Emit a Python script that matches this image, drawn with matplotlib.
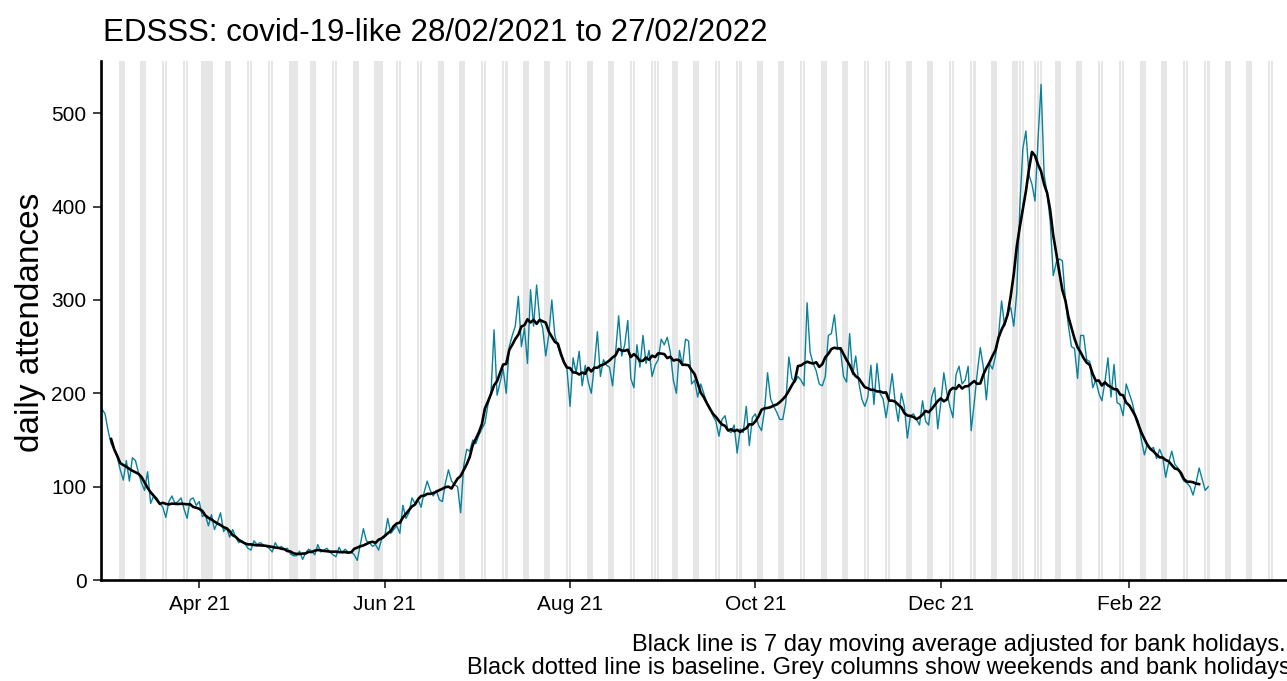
import pandas as pd
import matplotlib
matplotlib.use('Agg')
import matplotlib.pyplot as plt
import matplotlib.dates as mdates

plt.rcParams['font.family'] = ['Liberation Sans', 'DejaVu Sans']

# daily attendances (starts Sun 28/02/2021)
feb21 = [183]
mar21 = [178, 160, 146, 140, 132, 118, 107, 128, 106, 131, 128, 115, 104, 96,
         116, 82, 90, 88, 82, 78, 67, 84, 90, 82, 84, 88, 76, 66, 86, 88, 80]
apr21 = [84, 68, 70, 58, 70, 54, 62, 72, 52, 56, 46, 54, 46, 40, 42, 39, 34, 32,
         42, 38, 40, 38, 36, 34, 30, 40, 34, 36, 33, 34]
may21 = [28, 26, 26, 31, 22, 29, 33, 31, 27, 38, 30, 32, 34, 30, 27, 25, 35, 29,
         33, 30, 30, 27, 21, 38, 55, 42, 40, 36, 38, 32, 44]
jun21 = [46, 66, 50, 54, 58, 50, 80, 66, 72, 88, 82, 86, 78, 94, 106, 96, 90, 96,
         86, 84, 104, 118, 106, 102, 100, 72, 122, 140, 138, 150]
jul21 = [146, 155, 162, 168, 188, 200, 268, 198, 212, 226, 200, 250, 262, 272,
         304, 250, 270, 232, 311, 272, 316, 280, 270, 240, 262, 300, 262, 250,
         240, 232, 226]
aug21 = [186, 238, 222, 245, 208, 230, 212, 200, 230, 266, 218, 236, 230, 228,
         208, 244, 283, 240, 252, 278, 216, 206, 252, 228, 262, 232, 246, 218,
         230, 236, 258]
sep21 = [252, 260, 244, 214, 200, 246, 230, 258, 256, 210, 214, 196, 210, 200,
         190, 185, 176, 170, 154, 172, 176, 160, 158, 166, 136, 162, 158, 186,
         144, 174]
oct21 = [178, 166, 160, 182, 222, 194, 186, 180, 172, 172, 190, 239, 216, 212,
         218, 214, 208, 297, 244, 232, 224, 210, 208, 218, 262, 264, 284, 250,
         246, 218, 212]
nov21 = [264, 220, 240, 212, 194, 186, 196, 230, 188, 232, 200, 194, 174, 196,
         221, 190, 170, 200, 186, 152, 176, 178, 172, 166, 192, 170, 166, 196,
         206, 162]
dec21 = [190, 222, 200, 186, 174, 220, 229, 210, 214, 229, 160, 190, 222, 249,
         228, 193, 232, 226, 240, 262, 299, 272, 286, 292, 272, 308, 400, 462,
         481, 434, 424]
jan22 = [406, 472, 531, 434, 414, 384, 326, 340, 344, 342, 300, 272, 250, 248,
         216, 262, 262, 236, 234, 206, 214, 200, 192, 212, 238, 196, 231, 190,
         188, 176, 210]
feb22 = [200, 190, 176, 170, 150, 134, 146, 140, 142, 130, 140, 132, 110, 126,
         138, 124, 120, 112, 106, 104, 100, 91, 104, 120, 108, 96, 100]

bank_holidays = ['2021-04-02', '2021-04-05', '2021-05-03', '2021-05-31',
                 '2021-08-30', '2021-12-27', '2021-12-28', '2022-01-03']
tick_dates = ['2021-04-01', '2021-06-01', '2021-08-01', '2021-10-01',
              '2021-12-01', '2022-02-01']

counts = feb21 + mar21 + apr21 + may21 + jun21 + jul21 + aug21 + sep21 + \
    oct21 + nov21 + dec21 + jan22 + feb22
data = pd.DataFrame({'date': pd.date_range('2021-02-28', periods=len(counts), freq='D'),
                     'count': counts})
data['ma7'] = data['count'].rolling(7, center=True).mean()

# weekends + bank holidays for the grey columns
cal = pd.date_range('2021-02-27', '2022-03-27', freq='D')
bh = pd.to_datetime(bank_holidays)
shade = [d for d in cal if d.weekday() >= 5 or d in bh]

ytop = 556
fig = plt.figure(figsize=(12.87, 6.81), dpi=100)
ax = fig.add_axes([101 / 1287, 1 - 580 / 681, 1 - 101 / 1287, (580 - 61) / 681])

ax.bar(shade, ytop, width=0.85, bottom=0, color='#e6e6e6', linewidth=0, zorder=0)
ax.plot(data['date'], data['count'], color='#0a8199', lw=1.0, zorder=2)
ax.plot(data['date'], data['ma7'], color='black', lw=1.9, zorder=3)

ax.set_xlim(pd.Timestamp('2021-02-28') - pd.Timedelta(hours=8),
            pd.Timestamp('2022-03-24') + pd.Timedelta(hours=22))
ax.set_ylim(0, ytop)
ax.set_yticks([0, 100, 200, 300, 400, 500])
ax.set_xticks(pd.to_datetime(tick_dates))
ax.xaxis.set_major_formatter(mdates.DateFormatter('%b %y'))

for s in ['top', 'right']:
    ax.spines[s].set_visible(False)
for s in ['left', 'bottom']:
    ax.spines[s].set_linewidth(1.9)
    ax.spines[s].set_color('black')
ax.tick_params(axis='both', length=5.5, width=1.3, color='#333333',
               labelsize=15, labelcolor='black', pad=5)

fig.text(103 / 1287, 1 - 41 / 681, 'EDSSS: covid-19-like 28/02/2021 to 27/02/2022',
         fontsize=22.5, ha='left', va='baseline')
fig.text(30 / 1287, 1 - 322 / 681, 'daily attendances', fontsize=24,
         rotation=90, ha='center', va='center')
fig.text(1286 / 1287, 1 - 645 / 681,
         'Black line is 7 day moving average adjusted for bank holidays.',
         fontsize=17, ha='right', va='center')
fig.text(1291 / 1287, 1 - 668 / 681,
         'Black dotted line is baseline. Grey columns show weekends and bank holidays',
         fontsize=17, ha='right', va='center')

fig.savefig('out.png', dpi=100)
